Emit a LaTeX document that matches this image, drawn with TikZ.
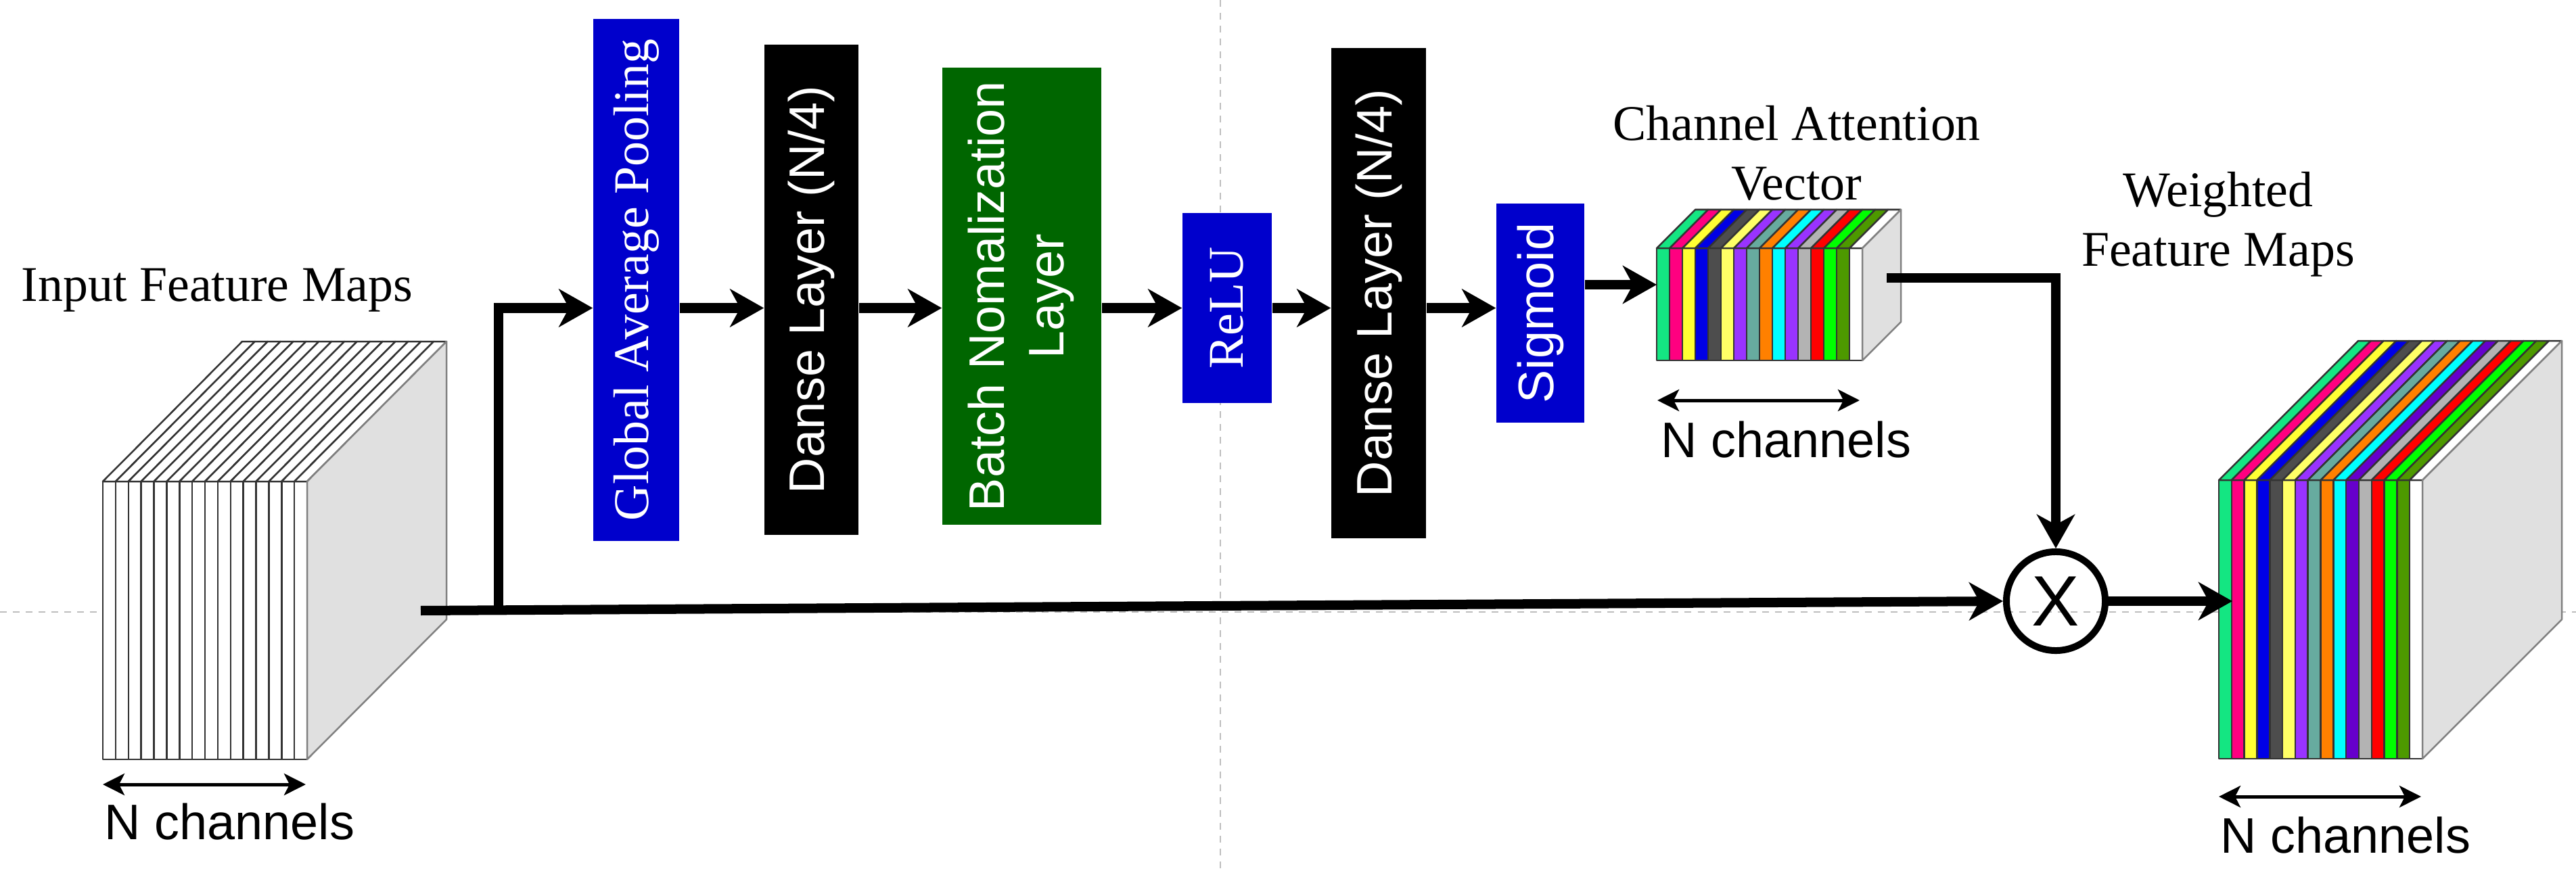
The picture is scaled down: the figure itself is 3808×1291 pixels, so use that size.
\documentclass[tikz,border=0pt]{standalone}
\usepackage{fontspec}
\setmainfont{Liberation Serif}
\setsansfont{Liberation Sans}
\usepackage{graphicx}
\usetikzlibrary{arrows.meta}
\definecolor{LayerBlue}{RGB}{0,0,204}
\definecolor{LayerGreen}{RGB}{0,102,0}
\definecolor{SideGray}{RGB}{224,224,224}
\definecolor{GuideGray}{RGB}{190,190,190}
\definecolor{ChSpring}{RGB}{20,230,130}
\definecolor{ChPink}{RGB}{255,0,128}
\definecolor{ChYellow}{RGB}{255,255,51}
\definecolor{ChBlue}{RGB}{0,0,230}
\definecolor{ChDark}{RGB}{77,77,77}
\definecolor{ChLYellow}{RGB}{255,255,102}
\definecolor{ChPurple}{RGB}{153,51,255}
\definecolor{ChTeal}{RGB}{103,171,159}
\definecolor{ChOrange}{RGB}{255,128,0}
\definecolor{ChCyan}{RGB}{0,255,255}
\definecolor{ChViolet}{RGB}{102,0,204}
\definecolor{ChGray}{RGB}{179,179,179}
\definecolor{ChRed}{RGB}{255,0,0}
\definecolor{ChLime}{RGB}{0,255,0}
\definecolor{ChOlive}{RGB}{77,153,0}
\newcommand{\labelsize}{\fontsize{21}{25}\selectfont}

\begin{document}
\begin{tikzpicture}[
    x=0.01cm,
    y=-0.01cm,
    layer/.style={
      draw=none,
      inner sep=0pt,
      text=white,
      font=\labelsize
    },
    sanslayer/.style={layer, font=\labelsize\sffamily},
    caption/.style={inner sep=0pt, align=center, font=\labelsize},
    chlabel/.style={inner sep=0pt, anchor=base west, font=\labelsize\sffamily},
    stripe/.style={draw=black!80, line width=0.025cm, line join=round},
    side/.style={draw=black!50, fill=SideGray, line width=0.025cm, line join=round},
    guide/.style={draw=GuideGray, line width=0.02cm, dash pattern=on 0.1cm off 0.09cm},
    flow/.style={line width=0.14cm, -{Stealth[length=0.5cm, width=0.56cm, inset=0.15cm]}},
    dim/.style={line width=0.05cm, {Stealth[length=0.32cm, width=0.32cm, inset=0.08cm]}-{Stealth[length=0.32cm, width=0.32cm, inset=0.08cm]}},
    mult/.style={circle, draw, line width=0.1cm, minimum size=1.46cm, inner sep=0pt, font=\fontsize{30}{30}\selectfont\sffamily}
  ]

    \path[use as bounding box, fill=white] (0,0) rectangle (3808,1291);

    % page guides
    \draw[guide] (1804,0) -- (1804,1291);
    \draw[guide] (0,905) -- (3808,905);

    % input feature maps
    \foreach \i in {0,...,15} {
      \draw[stripe, fill=white] (152+\i*18.875,712) rectangle ++(18.875,411);
      \draw[stripe, fill=white] (152+\i*18.875,712) -- ++(206,-207) -- ++(18.875,0) -- ++(-206,207) -- cycle;
    }
    \draw[side] (454,712) -- ++(206,-207) -- ++(0,411) -- ++(-206,207) -- cycle;

    % channel attention vector
    \foreach \c [count=\i from 0] in {ChSpring,ChPink,ChYellow,ChBlue,ChDark,ChLYellow,ChPurple,ChTeal,ChOrange,ChCyan,ChPurple,ChGray,ChRed,ChLime,ChOlive,white} {
      \draw[stripe, fill=\c] (2449+\i*19,367) rectangle ++(19,166);
      \draw[stripe, fill=\c] (2449+\i*19,367) -- ++(57,-57) -- ++(19,0) -- ++(-57,57) -- cycle;
    }
    \draw[side] (2753,367) -- ++(57,-57) -- ++(0,166) -- ++(-57,57) -- cycle;

    % weighted feature maps
    \foreach \c [count=\i from 0] in {ChSpring,ChPink,ChYellow,ChBlue,ChDark,ChLYellow,ChPurple,ChTeal,ChOrange,ChCyan,ChViolet,ChGray,ChRed,ChLime,ChOlive,white} {
      \draw[stripe, fill=\c] (3280+\i*18.8125,710) rectangle ++(18.8125,412);
      \draw[stripe, fill=\c] (3280+\i*18.8125,710) -- ++(206,-206) -- ++(18.8125,0) -- ++(-206,206) -- cycle;
    }
    \draw[side] (3581,710) -- ++(206,-206) -- ++(0,412) -- ++(-206,206) -- cycle;

    % labels
    \node[caption, anchor=base] (inlabel) at (321,445) {Input Feature Maps};
    \node[caption] (attlabel) at (2656,226) {Channel Attention\\Vector};
    \node[caption] (outlabel) at (3279,332) {Weighted\\Feature Maps};
    \node[chlabel] (inN) at (154,1241) {N channels};
    \node[chlabel] (attN) at (2455,676) {N channels};
    \node[chlabel] (outN) at (3282,1261) {N channels};

    % channel width markers
    \coordinate (inL) at (152,1160);
    \coordinate (inR) at (452,1160);
    \coordinate (attL) at (2450,592);
    \coordinate (attR) at (2749,592);
    \coordinate (outL) at (3280,1178);
    \coordinate (outR) at (3579,1178);
    \draw[dim] (inL) -- (inR);
    \draw[dim] (attL) -- (attR);
    \draw[dim] (outL) -- (outR);

    % attention branch layers
    \node[layer, fill=LayerBlue, minimum width=1.27cm, minimum height=7.72cm] (gap) at (940.5,414) {\rotatebox{90}{Global Average Pooling}};
    \node[sanslayer, fill=black, minimum width=1.39cm, minimum height=7.25cm] (dense1) at (1199.5,428.5) {\rotatebox{90}{Danse Layer (N/4)}};
    \node[sanslayer, fill=LayerGreen, minimum width=2.35cm, minimum height=6.76cm] (bn) at (1510.5,438) {\rotatebox{90}{\begin{tabular}{@{}c@{}}Batch Nomalization\\Layer\end{tabular}}};
    \node[layer, fill=LayerBlue, minimum width=1.32cm, minimum height=2.81cm] (relu) at (1814,455.5) {\rotatebox{90}{ReLU}};
    \node[sanslayer, fill=black, minimum width=1.40cm, minimum height=7.25cm] (dense2) at (2038,433.5) {\rotatebox{90}{Danse Layer (N/4)}};
    \node[sanslayer, fill=LayerBlue, minimum width=1.30cm, minimum height=3.24cm] (sigmoid) at (2277,463) {\rotatebox{90}{Sigmoid}};

    \node[mult] (mult) at (3039,889) {X};

    % connector ends
    \coordinate (inexit) at (622,903);
    \coordinate (branch) at (737,903);
    \coordinate (attin) at (2449,421);
    \coordinate (attout) at (2789,411);
    \coordinate (outin) at (3300,889);

    % main flow
    \draw[flow] (inexit) -- (mult.west);
    \draw[flow] (branch) |- (gap.west |- relu);
    \draw[flow] (gap.east |- relu) -- (dense1.west |- relu);
    \draw[flow] (dense1.east |- relu) -- (bn.west |- relu);
    \draw[flow] (bn.east |- relu) -- (relu.west);
    \draw[flow] (relu.east) -- (dense2.west |- relu);
    \draw[flow] (dense2.east |- relu) -- (sigmoid.west |- relu);
    \draw[flow] (sigmoid.east |- attin) -- (attin);
    \draw[flow] (attout) -| (mult.north);
    \draw[flow] (mult.east) -- (outin);
  \end{tikzpicture}
\end{document}
